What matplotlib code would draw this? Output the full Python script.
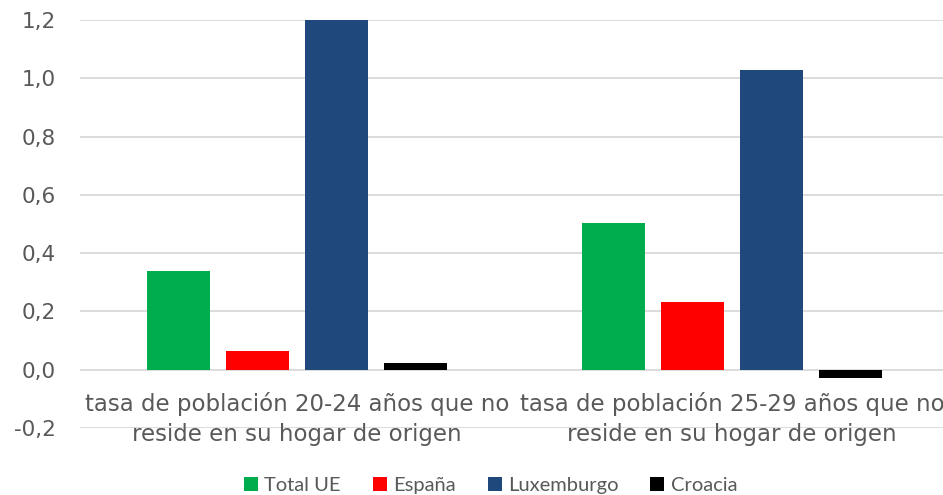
import numpy as np
import matplotlib.pyplot as plt

############################## Data ############################################
categories = ['tasa de población 20-24 años que no\nreside en su hogar de origen',
              'tasa de población 25-29 años que no\nreside en su hogar de origen']
series_names = ['Total UE', 'España', 'Luxemburgo', 'Croacia']
total_ue = [0.34, 0.505]
espana = [0.065, 0.234]
luxemburgo = [1.20, 1.027]
croacia = [0.024, -0.027]
colors = ['#00AD4E', '#FF0000', '#1F497D', '#000000']
y_ticks = [-0.2, 0.0, 0.2, 0.4, 0.6, 0.8, 1.0, 1.2]

############################## Plot ############################################
plt.rcParams['font.family'] = ['DejaVu Sans']
fig = plt.figure(figsize=(9.43, 4.95), dpi=100)
ax = fig.add_axes([79.5 / 943, 1 - 428 / 495, 870 / 943, 408 / 495])

x = np.arange(len(categories))
step = 0.182
width = 0.145
series = [total_ue, espana, luxemburgo, croacia]
for i, (vals, name, col) in enumerate(zip(series, series_names, colors)):
    ax.bar(x + (i - 1.5) * step, vals, width, color=col, label=name, zorder=3)

ax.set_xlim(-0.5, 1.5)
ax.set_ylim(-0.2, 1.2)
ax.set_yticks(y_ticks)
ax.set_yticklabels([f'{t:.1f}'.replace('.', ',') for t in y_ticks])
ax.tick_params(axis='y', length=0, pad=17, labelsize=15.5, labelcolor='#595959')
ax.set_xticks([])
ax.grid(axis='y', color='#D9D9D9', linewidth=1.3, zorder=0)
for s in ax.spines.values():
    s.set_visible(False)

## category labels sit just under the zero line
for xi, cat in zip(x, categories):
    ax.text(xi, -0.078, cat, ha='center', va='top', fontsize=16.5,
            color='#595959', linespacing=1.35, zorder=4)

leg = fig.legend(loc='lower center', bbox_to_anchor=(0.52, -0.035), ncol=4,
                 frameon=False, prop={'family': ['Lato'], 'size': 14.5},
                 handlelength=0.7, handleheight=0.7, handletextpad=0.3,
                 columnspacing=1.6)
for t in leg.get_texts():
    t.set_color('#595959')

fig.savefig('out.png', dpi=100)
